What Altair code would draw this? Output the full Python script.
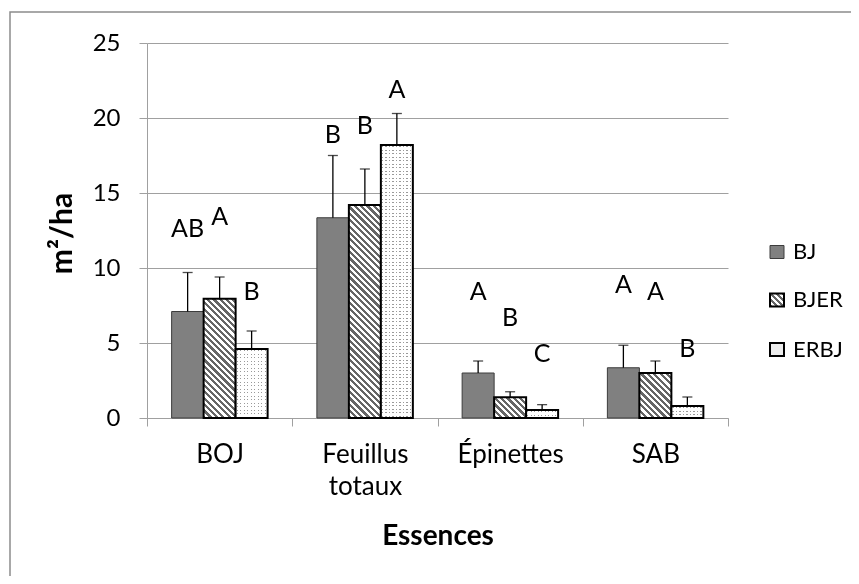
import math
import altair as alt
import pandas as pd

# ---------------- data ----------------
categories = ["BOJ", "Feuillus totaux", "Épinettes", "SAB"]
series = ["BJ", "BJER", "ERBJ"]

bj_values = [7.1, 13.35, 3.0, 3.35]
bjer_values = [7.95, 14.2, 1.38, 3.0]
erbj_values = [4.6, 18.2, 0.53, 0.8]

bj_err = [2.6, 4.15, 0.8, 1.5]
bjer_err = [1.45, 2.4, 0.37, 0.8]
erbj_err = [1.2, 2.1, 0.36, 0.6]

bj_letters = ["AB", "B", "A", "A"]
bjer_letters = ["A", "B", "B", "A"]
erbj_letters = ["B", "A", "C", "B"]

bj_letter_y = [12.6, 18.9, 8.4, 8.9]
bjer_letter_y = [13.4, 19.5, 6.7, 8.4]
erbj_letter_y = [8.4, 21.9, 4.3, 4.6]

y_ticks = [0, 5, 10, 15, 20, 25]

# ---------------- layout ----------------
W, H = 581, 375
PAD_L, PAD_T = 139, 35
YMAX = 25
PX = H / YMAX
BAR_W = 32.0
FONT = "Lato"
GRID = "#a0a0a0"

rows = []
for s, vals, errs, lets, ly in [
    ("BJ", bj_values, bj_err, bj_letters, bj_letter_y),
    ("BJER", bjer_values, bjer_err, bjer_letters, bjer_letter_y),
    ("ERBJ", erbj_values, erbj_err, erbj_letters, erbj_letter_y),
]:
    for c, v, e, l, y in zip(categories, vals, errs, lets, ly):
        rows.append({"cat": c, "serie": s, "val": v, "upper": v + e, "letter": l, "ly": y})
df = pd.DataFrame(rows)

xsc = alt.Scale(domain=categories, paddingInner=0, paddingOuter=0)
osc = alt.Scale(domain=series, paddingInner=0, paddingOuter=0.77)
ysc = alt.Scale(domain=[0, YMAX], nice=False)

X = alt.X(
    "cat:N",
    scale=xsc,
    sort=categories,
    axis=alt.Axis(
        title="Essences",
        labelAngle=0,
        tickBand="extent",
        tickSize=8,
        tickColor=GRID,
        domainColor=GRID,
        labelFont=FONT,
        labelFontSize=26,
        labelColor="#000000",
        labelPadding=15,
        labelLineHeight=32,
        labelExpr="split(datum.label, ' ')",
        titleFont=FONT,
        titleFontSize=28,
        titleFontWeight="bold",
        titleColor="#000000",
        titleY=118,
        titleBaseline="middle",
        grid=False,
    ),
)
Y = alt.Y(
    "val:Q",
    scale=ysc,
    axis=alt.Axis(
        title="m²/ha",
        values=y_ticks,
        grid=True,
        gridColor=GRID,
        domainColor=GRID,
        tickColor=GRID,
        tickSize=8,
        labelFont=FONT,
        labelFontSize=24,
        labelColor="#000000",
        labelPadding=19,
        titleFont=FONT,
        titleFontSize=30,
        titleFontWeight="bold",
        titleColor="#000000",
        titleX=-85,
        titleY=190,
        titleBaseline="middle",
        titleAlign="center",
    ),
)
XO = alt.XOffset("serie:N", scale=osc)


def hatch(w, h, period=4.5, duty=0.5, dark="#666666", light="#ffffff"):
    L = (w + h) / math.sqrt(2)
    f = (w + h) / (w * w + h * h)
    stops = [alt.GradientStop(offset=0, color=light)]
    k = 0
    while True:
        a = k * period / L
        b = (k + duty) * period / L
        if a >= 1:
            break
        b = min(b, 1)
        stops += [
            alt.GradientStop(offset=a, color=light),
            alt.GradientStop(offset=a, color=dark),
            alt.GradientStop(offset=b, color=dark),
            alt.GradientStop(offset=b, color=light),
        ]
        k += 1
    stops.append(alt.GradientStop(offset=1, color=light))
    return alt.LinearGradient(
        gradient="linear", stops=stops, x1=0, y1=1, x2=w * f, y2=1 - h * f
    )


def stripes(length, vertical, period=3.5, duty=0.35, dark="#9a9a9a", light="#ffffff"):
    stops = [alt.GradientStop(offset=0, color=light)]
    k = 0
    while True:
        a = (k + 0.3) * period / length
        b = (k + 0.3 + duty) * period / length
        if a >= 1:
            break
        b = min(b, 1)
        stops += [
            alt.GradientStop(offset=a, color=light),
            alt.GradientStop(offset=a, color=dark),
            alt.GradientStop(offset=b, color=dark),
            alt.GradientStop(offset=b, color=light),
        ]
        k += 1
    stops.append(alt.GradientStop(offset=1, color=light))
    if vertical:
        return alt.LinearGradient(gradient="linear", stops=stops, x1=0, y1=0, x2=1, y2=0)
    return alt.LinearGradient(gradient="linear", stops=stops, x1=0, y1=0, x2=0, y2=1)


base = alt.Chart(df)

layers = []

# outer border (only its left and top edges fall inside the picture)
border = alt.Chart(pd.DataFrame({"a": [0]})).mark_rect(
    fill="transparent", stroke="#8c8c8c", strokeWidth=1.5
).encode(
    x=alt.value(-137), x2=alt.value(730), y=alt.value(-31), y2=alt.value(560)
)
layers.append(border)

# BJ bars
layers.append(
    base.transform_filter(alt.datum.serie == "BJ")
    .mark_bar(fill="#808080", stroke="#3c3c3c", strokeWidth=1)
    .encode(x=X, xOffset=XO, y=Y)
)

# BJER bars: diagonal hatching
for c, v in zip(categories, bjer_values):
    layers.append(
        base.transform_filter((alt.datum.serie == "BJER") & (alt.datum.cat == c))
        .mark_bar(fill=hatch(BAR_W, v * PX), stroke="#000000", strokeWidth=2)
        .encode(x=X, xOffset=XO, y=Y)
    )

# ERBJ bars: dotted (vertical stripes lightened by horizontal stripes)
layers.append(
    base.transform_filter(alt.datum.serie == "ERBJ")
    .mark_bar(fill=stripes(BAR_W, True))
    .encode(x=X, xOffset=XO, y=Y)
)
for c, v in zip(categories, erbj_values):
    layers.append(
        base.transform_filter((alt.datum.serie == "ERBJ") & (alt.datum.cat == c))
        .mark_bar(fill=stripes(v * PX, False), blend="lighten")
        .encode(x=X, xOffset=XO, y=Y)
    )
layers.append(
    base.transform_filter(alt.datum.serie == "ERBJ")
    .mark_bar(fill="transparent", stroke="#000000", strokeWidth=2)
    .encode(x=X, xOffset=XO, y=Y)
)

# error bars (upper only)
layers.append(
    base.mark_rule(color="#000000", strokeWidth=1.3).encode(
        x=X, xOffset=XO, y=Y, y2="upper:Q"
    )
)
layers.append(
    base.mark_tick(color="#000000", thickness=1.3, size=10, orient="horizontal").encode(
        x=X, xOffset=XO, y=alt.Y("upper:Q", scale=ysc)
    )
)

# significance letters
layers.append(
    base.mark_text(font=FONT, fontSize=25, color="#000000", baseline="middle").encode(
        x=X, xOffset=XO, y=alt.Y("ly:Q", scale=ysc), text="letter:N"
    )
)

# manual legend
one = pd.DataFrame({"a": [0]})
LX0, LX1 = 623, 637
LY = [209, 257, 306.5]
HS = 6.5
legend_fills = [
    dict(fill="#808080", stroke="#3c3c3c", strokeWidth=1),
    dict(fill=hatch(14, 13, period=4.2), stroke="#000000", strokeWidth=2),
    dict(fill="#ececec", stroke="#000000", strokeWidth=2),
]
for s, ly, style in zip(series, LY, legend_fills):
    layers.append(
        alt.Chart(one).mark_rect(**style).encode(
            x=alt.value(LX0), x2=alt.value(LX1), y=alt.value(ly - HS), y2=alt.value(ly + HS)
        )
    )
    layers.append(
        alt.Chart(one).mark_text(
            font=FONT, fontSize=22, color="#000000", align="left", baseline="middle"
        ).encode(x=alt.value(646), y=alt.value(ly), text=alt.value(s))
    )

chart = (
    alt.layer(*layers)
    .properties(
        width=W,
        height=H,
        padding={"left": PAD_L, "top": PAD_T, "right": 123, "bottom": 158},
        autosize=alt.AutoSizeParams(type="none"),
        background="#ffffff",
    )
    .configure_view(stroke=None)
)

chart.save("out.html", embed_options={"renderer": "svg", "actions": False})
